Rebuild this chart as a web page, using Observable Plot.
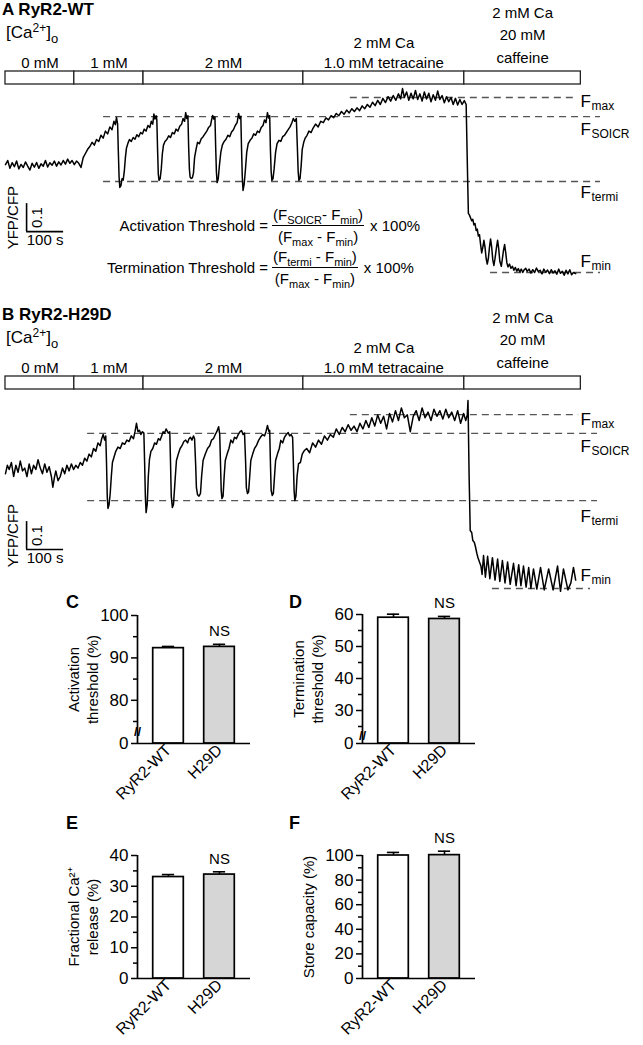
<!DOCTYPE html>
<html><head><meta charset="utf-8">
<script src="https://cdn.jsdelivr.net/npm/d3@7"></script>
<script src="https://cdn.jsdelivr.net/npm/@observablehq/plot@0.6"></script>
<style>
body{margin:0;background:#fff;}
#root{position:relative;width:643px;height:1045px;font-family:"Liberation Sans",Arial,Helvetica,sans-serif;color:#000;overflow:hidden;background:#fff}
.abs{position:absolute;white-space:nowrap}
.title{font-weight:bold;font-size:17px;line-height:17px}
.letter{font-weight:bold;font-size:18px;line-height:18px}
.ca{font-size:17px;line-height:17px}
.ca sup{font-size:12px;vertical-align:6px}
.ca sub{font-size:13px;vertical-align:-5px}
sup{font-size:10px;vertical-align:6px;line-height:0}
sub{font-size:11px;vertical-align:-4px;line-height:0}
.frow{display:flex;align-items:center;font-size:15px;line-height:19px}
.flab{width:272px;text-align:right;padding-right:4px;box-sizing:border-box}
.frac{display:inline-flex;flex-direction:column;align-items:center}
.num{border-bottom:1.4px solid #000;padding:0 1px 1px 1px}
.den{padding-top:1px}
.x100{padding-left:6px}
</style></head>
<body><div id="root">
<div class="abs title" style="left:2px;top:1px">A RyR2-WT</div>
<div class="abs ca" style="left:6px;top:24px">[Ca<sup>2+</sup>]<sub>o</sub></div>
<div class="abs frow" style="left:0px;top:205px"><span class="flab">Activation Threshold =</span><span class="frac"><span class="num">(F<sub>SOICR</sub>- F<sub>min</sub>)</span><span class="den">(F<sub>max</sub> - F<sub>min</sub>)</span></span><span class="x100">x 100%</span></div>
<div class="abs frow" style="left:0px;top:247px"><span class="flab">Termination Threshold =</span><span class="frac"><span class="num">(F<sub>termi</sub> - F<sub>min</sub>)</span><span class="den">(F<sub>max</sub> - F<sub>min</sub>)</span></span><span class="x100">x 100%</span></div>
<div class="abs title" style="left:2px;top:306px">B RyR2-H29D</div>
<div class="abs ca" style="left:6px;top:329px">[Ca<sup>2+</sup>]<sub>o</sub></div>
<div class="abs letter" style="left:66px;top:593px">C</div>
<div class="abs letter" style="left:289px;top:593px">D</div>
<div class="abs letter" style="left:66px;top:814px">E</div>
<div class="abs letter" style="left:289px;top:814px">F</div>
</div>
<script>
const FONT = '"Liberation Sans", Arial, Helvetica, sans-serif';

// ---- solution protocol (seconds) ----
const segBounds = [0, 186, 373, 805, 1240, 1555];
const segLabels = ["0 mM", "1 mM", "2 mM", "2 mM Ca\n1.0 mM tetracaine", "2 mM Ca\n20 mM\ncaffeine"];

// ---- trace A: RyR2-WT, [time (s), YFP/CFP ratio] ----
const traceA = [
[0,1.385],[6,1.40],[12,1.372],[18,1.392],[24,1.378],[30,1.398],[36,1.37],[42,1.386],[48,1.375],[54,1.395],[60,1.38],[66,1.366],[72,1.39],[78,1.376],[84,1.393],[90,1.372],[96,1.388],[102,1.38],[108,1.40],[114,1.377],[120,1.392],[126,1.383],[132,1.398],[138,1.38],[144,1.395],[150,1.384],[156,1.40],[162,1.387],[168,1.405],[174,1.39],[180,1.40],[186,1.385],[192,1.398],[198,1.39],[204,1.375],
[210,1.41],[216,1.425],[222,1.44],[228,1.45],[234,1.465],[240,1.455],[246,1.475],[252,1.468],[258,1.49],[264,1.48],[270,1.505],[276,1.495],[282,1.52],[288,1.51],[293,1.54],[297,1.528],[300,1.554],[303,1.53],
[305,1.43],[307,1.34],[309,1.304],[312,1.31],[315,1.335],[318,1.33],[321,1.36],[324,1.41],[327,1.445],[331,1.462],[335,1.475],[340,1.468],[345,1.482],[350,1.476],[355,1.492],[360,1.485],[365,1.50],[370,1.495],[375,1.512],[380,1.505],[385,1.525],[390,1.518],[394,1.54],[398,1.53],[401,1.566],[404,1.548],[407,1.56],[409,1.545],
[411,1.44],[413,1.35],[415,1.329],[418,1.335],[421,1.37],[424,1.425],[427,1.455],[431,1.468],[436,1.475],[441,1.488],[446,1.482],[451,1.50],[456,1.495],[461,1.512],[466,1.505],[471,1.522],[476,1.53],[480,1.55],[484,1.54],[487,1.571],[490,1.55],[493,1.56],
[495,1.45],[497,1.37],[499,1.34],[502,1.336],[505,1.338],[508,1.355],[511,1.41],[515,1.44],[519,1.465],[524,1.46],[529,1.478],[534,1.485],[539,1.495],[544,1.505],[549,1.518],[554,1.525],[557,1.545],[560,1.561],[563,1.548],[566,1.556],
[568,1.45],[570,1.36],[572,1.321],[575,1.335],[578,1.38],[582,1.43],[586,1.455],[591,1.468],[596,1.476],[601,1.49],[606,1.485],[611,1.502],[616,1.51],[621,1.525],[626,1.535],[630,1.568],[633,1.55],[636,1.558],
[638,1.44],[640,1.34],[642,1.293],[645,1.315],[648,1.36],[652,1.43],[656,1.46],[661,1.472],[666,1.48],[671,1.495],[676,1.49],[681,1.505],[686,1.50],[691,1.518],[696,1.525],[700,1.545],[704,1.535],[708,1.571],[711,1.552],[714,1.56],
[716,1.44],[718,1.36],[720,1.329],[723,1.335],[726,1.37],[730,1.43],[734,1.46],[739,1.472],[744,1.468],[749,1.485],[754,1.49],[759,1.50],[764,1.51],[769,1.52],[774,1.535],[778,1.55],[782,1.54],[786,1.55],
[789,1.44],[791,1.36],[793,1.329],[796,1.335],[799,1.38],[802,1.44],[806,1.465],[810,1.48],[815,1.49],[820,1.505],[826,1.50],[831,1.515],
[838,1.53],[845,1.52],[852,1.54],[859,1.535],[866,1.552],[873,1.545],[880,1.56],[887,1.553],[894,1.568],[901,1.56],[908,1.575],[915,1.565],[922,1.58],[929,1.57],[936,1.585],[943,1.575],[950,1.588],[957,1.578],[964,1.595],[971,1.585],[978,1.60],[985,1.59],[992,1.608],[999,1.596],[1006,1.615],[1013,1.60],[1020,1.622],[1027,1.607],[1034,1.628],[1041,1.612],[1048,1.632],[1055,1.615],[1062,1.638],[1068,1.62],[1073,1.657],[1078,1.625],[1084,1.645],[1090,1.615],[1096,1.64],[1102,1.62],[1108,1.65],[1114,1.618],[1120,1.638],[1126,1.612],[1132,1.645],[1138,1.62],[1144,1.64],[1150,1.61],[1156,1.635],[1162,1.615],[1168,1.648],[1174,1.618],[1180,1.632],[1186,1.606],[1192,1.628],[1198,1.61],[1204,1.625],[1210,1.60],[1216,1.622],[1222,1.598],[1228,1.618],[1234,1.60],[1240,1.614],[1245,1.60],
[1248,1.40],[1251,1.211],[1254,1.205],[1257,1.195],[1260,1.185],[1263,1.19],[1266,1.17],[1269,1.175],[1272,1.15],[1275,1.155],[1278,1.13],[1281,1.135],[1284,1.10],[1287,1.07],[1290,1.09],[1293,1.115],[1296,1.09],[1299,1.05],[1302,1.03],[1305,1.05],[1308,1.09],[1311,1.12],[1314,1.09],[1317,1.045],[1320,1.025],[1323,1.05],[1327,1.09],[1330,1.115],[1333,1.085],[1336,1.04],[1340,1.022],[1343,1.05],[1346,1.08],[1349,1.10],[1352,1.07],[1355,1.035],[1358,1.02],[1362,1.03],[1366,1.015],[1370,1.022],[1374,1.008],[1378,1.018],[1382,1.005],[1386,1.014],[1390,1.002],[1394,1.012],[1398,1.0],[1402,1.01],[1406,1.015],[1410,1.004],[1415,1.012],[1420,0.998],[1425,1.01],[1430,1.0],[1435,1.016],[1440,1.003],[1445,1.008],[1450,0.995],[1455,1.012],[1460,1.0],[1465,1.009],[1470,0.996],[1475,1.01],[1480,0.998],[1485,1.006],[1490,0.994],[1495,1.012],[1500,0.997],[1505,1.004],[1510,0.99],[1515,1.008],[1520,0.995],[1525,1.01],[1530,0.992],[1535,1.0],[1541,0.996]
];

// ---- trace B: RyR2-H29D ----
const traceB = [
[0,1.41],[5,1.44],[10,1.425],[16,1.45],[22,1.40],[28,1.44],[34,1.415],[40,1.455],[46,1.42],[52,1.43],[58,1.40],[64,1.445],[70,1.41],[76,1.44],[82,1.425],[88,1.46],[94,1.43],[100,1.41],[106,1.445],[112,1.415],[118,1.435],[124,1.40],[128,1.362],[132,1.395],[136,1.42],[142,1.385],[148,1.40],[154,1.43],[160,1.41],[166,1.44],[172,1.42],[178,1.445],[184,1.425],[190,1.44],
[196,1.43],[202,1.45],[208,1.44],[214,1.465],[220,1.455],[226,1.48],[232,1.47],[238,1.50],[244,1.49],[250,1.52],[256,1.51],[260,1.535],[264,1.55],[268,1.53],[271,1.545],
[273,1.45],[275,1.33],[277,1.286],[280,1.30],[283,1.34],[286,1.40],[289,1.45],[293,1.468],[298,1.49],[304,1.505],[310,1.50],[316,1.52],[322,1.515],[328,1.53],[334,1.525],[340,1.545],[346,1.535],[350,1.56],[354,1.59],[358,1.56],[362,1.565],[366,1.55],[370,1.56],[374,1.555],
[376,1.45],[378,1.33],[380,1.271],[383,1.30],[386,1.40],[389,1.46],[393,1.49],[398,1.50],[403,1.52],[408,1.515],[413,1.535],[418,1.53],[422,1.545],[426,1.56],[430,1.555],[434,1.57],[440,1.555],[444,1.56],
[446,1.45],[448,1.33],[451,1.289],[454,1.30],[458,1.38],[462,1.457],[467,1.48],[472,1.50],[477,1.51],[482,1.525],[487,1.53],[492,1.52],[496,1.535],[500,1.54],[504,1.53],[508,1.545],[511,1.535],
[514,1.44],[516,1.36],[519,1.335],[523,1.33],[527,1.34],[530,1.40],[534,1.457],[540,1.48],[546,1.50],[552,1.51],[557,1.53],[562,1.535],[567,1.55],[571,1.56],[576,1.578],[579,1.55],
[581,1.45],[583,1.35],[585,1.321],[588,1.33],[591,1.40],[594,1.457],[599,1.48],[604,1.50],[609,1.53],[614,1.52],[619,1.54],[624,1.535],[629,1.55],[634,1.56],[638,1.564],[642,1.55],[646,1.555],
[649,1.45],[651,1.36],[654,1.339],[657,1.345],[660,1.40],[663,1.457],[668,1.48],[673,1.50],[678,1.51],[684,1.529],[689,1.54],[695,1.55],[700,1.545],[704,1.56],[708,1.582],[712,1.56],[714,1.565],
[716,1.45],[718,1.35],[721,1.332],[724,1.34],[727,1.40],[730,1.457],[735,1.48],[740,1.50],[744,1.529],[749,1.52],[754,1.54],[759,1.55],[764,1.557],[768,1.545],[772,1.55],[776,1.54],
[778,1.45],[780,1.35],[782,1.314],[785,1.33],[788,1.40],[792,1.446],[797,1.45],[802,1.48],[808,1.493],
[814,1.50],[822,1.485],[830,1.52],[838,1.505],[846,1.53],[854,1.515],[862,1.545],[870,1.53],[878,1.55],[886,1.54],[894,1.57],[902,1.55],[910,1.575],[918,1.56],[926,1.585],[934,1.565],[942,1.58],[950,1.56],[958,1.59],[966,1.57],[974,1.60],[982,1.575],[990,1.61],[998,1.58],[1006,1.62],[1014,1.59],[1022,1.615],[1030,1.57],[1038,1.625],[1046,1.595],[1054,1.635],[1062,1.60],[1070,1.645],[1078,1.61],[1086,1.62],[1094,1.56],[1102,1.615],[1110,1.635],[1118,1.60],[1126,1.645],[1134,1.61],[1142,1.63],[1150,1.60],[1158,1.64],[1166,1.615],[1174,1.635],[1182,1.605],[1190,1.64],[1198,1.61],[1206,1.63],[1214,1.60],[1222,1.635],[1230,1.59],[1238,1.625],[1244,1.60],[1248,1.62],
[1250,1.671],[1253,1.40],[1256,1.207],[1260,1.20],[1263,1.171],[1267,1.165],[1270,1.15],[1274,1.125],[1277,1.11],[1281,1.095],[1285,1.08],[1288,1.05],[1292,1.118],[1297,1.04],[1303,1.115],[1309,1.035],[1316,1.11],[1323,1.03],[1330,1.105],[1336,1.025],[1343,1.10],[1350,1.02],[1357,1.095],[1364,1.015],[1373,1.09],[1380,1.01],[1387,1.085],[1393,1.01],[1400,1.08],[1407,1.005],[1414,1.075],[1420,1.0],[1427,1.07],[1436,0.998],[1446,1.075],[1456,0.995],[1468,1.07],[1480,0.995],[1492,1.08],[1500,0.99],[1508,1.07],[1520,0.995],[1528,1.02],[1535,1.075],[1541,1.03]
];

// ---- fluorescence levels (ratio) and dashed-line extents (s) ----
const levelsA = [
  {name: "max", value: 1.625, from: 932, to: 1540},
  {name: "SOICR", value: 1.557, from: 265, to: 1608},
  {name: "termi", value: 1.325, from: 265, to: 1608},
  {name: "min", value: 1.0, from: 1311, to: 1608}
];
const levelsB = [
  {name: "max", value: 1.621, from: 932, to: 1549},
  {name: "SOICR", value: 1.554, from: 222, to: 1600},
  {name: "termi", value: 1.314, from: 222, to: 1600},
  {name: "min", value: 1.0, from: 1316, to: 1581}
];
// scale bars: 100 s and 0.1 ratio
const scaleBarA = {t: 57, r: 1.146, dt: 100, dr: 0.1};
const scaleBarB = {t: 57, r: 1.139, dt: 100, dr: 0.1};

// ---- summary bars ----
const groups = ["RyR2-WT", "H29D"];
const activationMean = [92.3, 92.6], activationSem = [0.4, 0.6];
const terminationMean = [59.0, 58.6], terminationSem = [1.1, 0.8];
const fractionalMean = [33.0, 33.8], fractionalSem = [0.8, 0.9];
const storeMean = [100.0, 100.3], storeSem = [2.5, 3.2];
const activationTicks = [0, 80, 90, 100], activationMinor = [75, 85, 95];
const terminationTicks = [0, 30, 40, 50, 60], terminationMinor = [25, 35, 45, 55];
const fractionalTicks = [0, 10, 20, 30, 40], fractionalMinor = [5, 15, 25, 35];
const storeTicks = [0, 20, 40, 60, 80, 100], storeMinor = [10, 30, 50, 70, 90];

// ================= drawing =================
const root = document.getElementById("root");
function place(node, left, top) {
  const d = document.createElement("div");
  d.className = "abs";
  d.style.left = left + "px"; d.style.top = top + "px";
  d.appendChild(node);
  root.appendChild(d);
}
const X_DOMAIN = [-13.5, 1724.3];
const baseStyle = {background: "transparent", fontFamily: FONT, fontSize: "15px", overflow: "visible", color: "black"};

function header(top) {
  const segs = segLabels.map((label, i) => ({x1: segBounds[i], x2: segBounds[i + 1], label}));
  const p = Plot.plot({
    width: 643, height: 86, marginTop: 71, marginBottom: 2, marginLeft: 0, marginRight: 0,
    x: {domain: X_DOMAIN, range: [0, 643], axis: null},
    style: baseStyle,
    marks: [
      Plot.rect(segs, {x1: "x1", x2: "x2", fill: "white", stroke: "#222", strokeWidth: 1.3}),
      Plot.text(segs.slice(0, 4), {x: d => (d.x1 + d.x2) / 2, text: "label", frameAnchor: "top", lineAnchor: "bottom", dy: -4, lineHeight: 1.33, fontSize: 15}),
      Plot.text(segs.slice(4), {x: d => (d.x1 + d.x2) / 2, text: "label", frameAnchor: "top", lineAnchor: "bottom", dy: -9, lineHeight: 1.47, fontSize: 15})
    ]
  });
  place(p, 0, top);
}

function trace(data, levels, sb, top, height, yDomain, offsets) {
  const labelT = 1554;
  const marks = [
    Plot.ruleY(levels, {y: "value", x1: "from", x2: "to", stroke: "#555", strokeWidth: 1.3, strokeDasharray: "7,5"}),
    Plot.line(data, {x: d => d[0], y: d => d[1], stroke: "black", strokeWidth: 1.5}),
    Plot.ruleX([sb], {x: "t", y1: "r", y2: d => d.r + d.dr, strokeWidth: 1.6}),
    Plot.ruleY([sb], {y: "r", x1: "t", x2: d => d.t + d.dt, strokeWidth: 1.6}),
    Plot.text([sb], {x: "t", y: d => d.r + d.dr / 2, text: d => String(d.dr), rotate: -90, dx: 11, fontSize: 15}),
    Plot.text([sb], {x: "t", y: d => d.r + d.dr / 2, text: () => "YFP/CFP", rotate: -90, dx: -13, fontSize: 15}),
    Plot.text([sb], {x: d => d.t + d.dt / 2, y: "r", text: d => d.dt + " s", lineAnchor: "top", dy: 3, fontSize: 15})
  ];
  for (const l of levels) {
    const o = offsets[l.name];
    marks.push(Plot.text([l], {x: () => labelT, y: "value", text: () => "F", fontSize: 17, textAnchor: "start", dy: o}));
    marks.push(Plot.text([l], {x: () => labelT, y: "value", text: "name", fontSize: 12, textAnchor: "start", dx: 11, dy: o + 5}));
  }
  const p = Plot.plot({
    width: 643, height, margin: 0,
    x: {domain: X_DOMAIN, range: [0, 643], axis: null},
    y: {domain: yDomain, range: [height, 0], axis: null},
    style: baseStyle,
    marks
  });
  place(p, 0, top);
}

function barChart(o) {
  // broken axis: piecewise map of values onto a 0..1 axis fraction, then Plot's linear y scale
  const r = o.range, span = r[0] - r[r.length - 1];
  const brk = d3.scaleLinear().domain(o.domain).range(r.map(v => (r[0] - v) / span));
  const rows = groups.map((g, i) => ({i, g, mean: o.means[i], sem: o.sems[i]}));
  const xmin = -0.608, xmax = 1.608;
  const fills = ["white", "#d6d6d6"];
  const top = o.ticks[o.ticks.length - 1];
  const marks = [];
  rows.forEach((row, i) => marks.push(Plot.rect([row], {x1: d => d.i - 0.3, x2: d => d.i + 0.3, y1: () => brk(0), y2: d => brk(d.mean), fill: fills[i], stroke: "black", strokeWidth: 1.7})));
  marks.push(
    Plot.ruleX(rows, {x: "i", y1: d => brk(d.mean), y2: d => brk(d.mean + d.sem), strokeWidth: 1.6}),
    Plot.ruleY(rows, {x1: d => d.i - 0.12, x2: d => d.i + 0.12, y: d => brk(d.mean + d.sem), strokeWidth: 1.6}),
    Plot.ruleY([0], {y: d => brk(d), strokeWidth: 1.7}),
    Plot.ruleX([xmin], {y1: () => brk(0), y2: () => brk(top), strokeWidth: 1.7}),
    Plot.axisY({ticks: o.ticks.map(brk), tickFormat: v => String(Math.round(brk.invert(v))), tickSize: 6, tickPadding: 3, fontSize: 17, label: null, strokeWidth: 1.5}),
    Plot.axisY({ticks: o.minor.map(brk), tickFormat: () => "", tickSize: 4, label: null, strokeWidth: 1.5}),
    Plot.axisX({ticks: [0, 1], tickFormat: i => groups[i], tickRotate: -45, tickSize: 0, tickPadding: 4, fontSize: 16, label: null}),
    Plot.text([rows[1]], {x: "i", y: d => brk(d.mean + d.sem), text: () => "NS", dy: -8, lineAnchor: "bottom", fontSize: 15}),
    Plot.text([o.ylabel], {frameAnchor: "left", text: d => d, rotate: -90, dx: -55, textAnchor: "middle", lineAnchor: "middle", fontSize: 15, lineHeight: 1.25})
  );
  if (o.breakAt != null) marks.push(Plot.text(["//"], {x: () => xmin, y: () => brk(o.breakAt), text: d => d, fontSize: 13, fontWeight: "bold"}));
  const height = 230;
  const p = Plot.plot({
    width: 300, height, marginLeft: 137, marginRight: 50, marginTop: r[r.length - 1], marginBottom: height - r[0],
    x: {domain: [xmin, xmax], axis: null},
    y: {domain: [0, 1], range: [r[0], r[r.length - 1]], axis: null},
    style: baseStyle,
    marks
  });
  place(p, o.left, o.top);
}

header(0);
trace(traceA, levelsA, scaleBarA, 86, 214, [0.9, 1.6643], {max: 4, SOICR: 13, termi: 11, min: -11});
header(305);
trace(traceB, levelsB, scaleBarB, 392, 218, [0.9214, 1.7], {max: 5, SOICR: 13, termi: 16, min: -13});

barChart({left: 0, top: 590, means: activationMean, sems: activationSem, ticks: activationTicks, minor: activationMinor,
  domain: [0, 75, 100], range: [153, 131, 25], ylabel: "Activation\nthreshold (%)", breakAt: 40});
barChart({left: 225, top: 590, means: terminationMean, sems: terminationSem, ticks: terminationTicks, minor: terminationMinor,
  domain: [0, 25, 60], range: [153, 136, 24], ylabel: "Termination\nthreshold (%)", breakAt: 12});
barChart({left: 0, top: 820, means: fractionalMean, sems: fractionalSem, ticks: fractionalTicks, minor: fractionalMinor,
  domain: [0, 40], range: [158, 35], ylabel: "Fractional Ca²⁺\nrelease (%)"});
barChart({left: 225, top: 820, means: storeMean, sems: storeSem, ticks: storeTicks, minor: storeMinor,
  domain: [0, 100], range: [158, 35], ylabel: "Store capacity (%)"});
</script>
</body></html>
